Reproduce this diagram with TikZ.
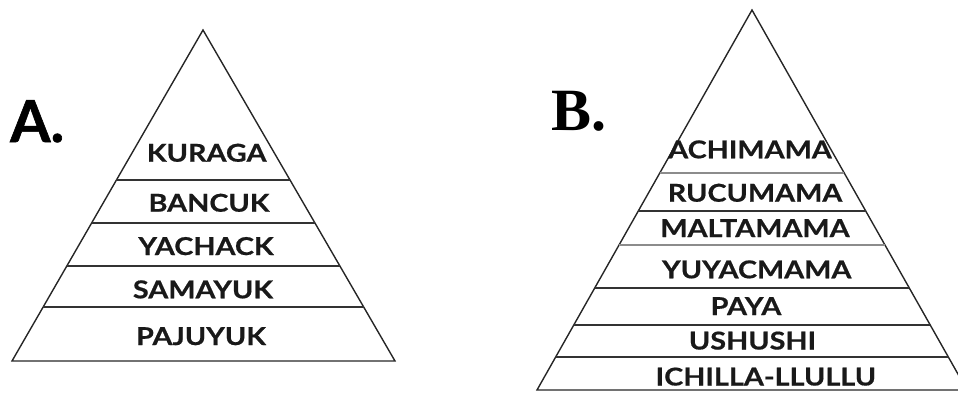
\documentclass[tikz,border=0pt]{standalone}
\usepackage{fontspec}
\usetikzlibrary{calc}
\newfontfamily\tierfont{Lato}[FakeStretch=1.17,FakeBold=0.6]
\newfontfamily\letterfont{Lato}[FakeBold=1]
\newfontfamily\serifletter{Liberation Serif}
\begin{document}
\begin{tikzpicture}[x=1pt,y=-1pt,
  tier/.style={anchor=base,inner sep=0pt,font=\tierfont\bfseries\fontsize{24.6}{25}\selectfont,text=black!90},
  outline/.style={line width=1.4pt,draw=black!85,line join=miter},
  divider/.style={line width=1.6pt,draw=black!80},
  softdivider/.style={line width=1.2pt,draw=black!45}]
\useasboundingbox (0,0) rectangle (958,392);

% ---- pyramid A ----
\coordinate (Atop) at (203,30);
\coordinate (Abl) at (12,361);
\coordinate (Abr) at (395,361);
\draw[outline] (Atop) -- (Abl) -- (Abr) -- cycle;
\foreach \yy in {180,223,266,307}{
  \draw[divider] ($(Atop)!{(\yy-30)/331}!(Abl)$) -- ($(Atop)!{(\yy-30)/331}!(Abr)$);
}
\node[anchor=base west,inner sep=0pt,font=\letterfont\bfseries\fontsize{58}{58}\selectfont] (labA) at (10,142) {A.};
\node[tier] (kuraga)  at (206.7,161.7) {KURAGA};
\node[tier] (bancuk)  at (209,211.7)   {BANCUK};
\node[tier] (yachack) at (206,255)     {YACHACK};
\node[tier] (samayuk) at (203,298.3)   {SAMAYUK};
\node[tier] (pajuyuk) at (201,345)     {PAJUYUK};

% ---- pyramid B ----
\coordinate (Btop) at (752,10);
\coordinate (Bbl) at (537,390);
\coordinate (Bbr) at (967,390);
\draw[outline] (Btop) -- (Bbl) -- (Bbr) -- cycle;
\foreach \yy/\sty in {173/softdivider,211/divider,245/softdivider,288/divider,325/divider,357/divider}{
  \draw[\sty] ($(Btop)!{(\yy-10)/380}!(Bbl)$) -- ($(Btop)!{(\yy-10)/380}!(Bbr)$);
}
\node[anchor=base west,inner sep=0pt,font=\serifletter\bfseries\fontsize{60}{60}\selectfont] (labB) at (551,130) {B.};
\node[tier] (achi)  at (750,158.3)   {ACHIMAMA};
\node[tier] (rucu)  at (755,201.7)   {RUCUMAMA};
\node[tier] (malta) at (755,237)     {MALTAMAMA};
\node[tier] (yuyac) at (756.7,278.3) {YUYACMAMA};
\node[tier] (paya)  at (746,315)     {PAYA};
\node[tier] (ushu)  at (752.5,349.5) {USHUSHI};
\node[tier] (ichi)  at (765.8,385.5) {ICHILLA-LLULLU};
\end{tikzpicture}
\end{document}
